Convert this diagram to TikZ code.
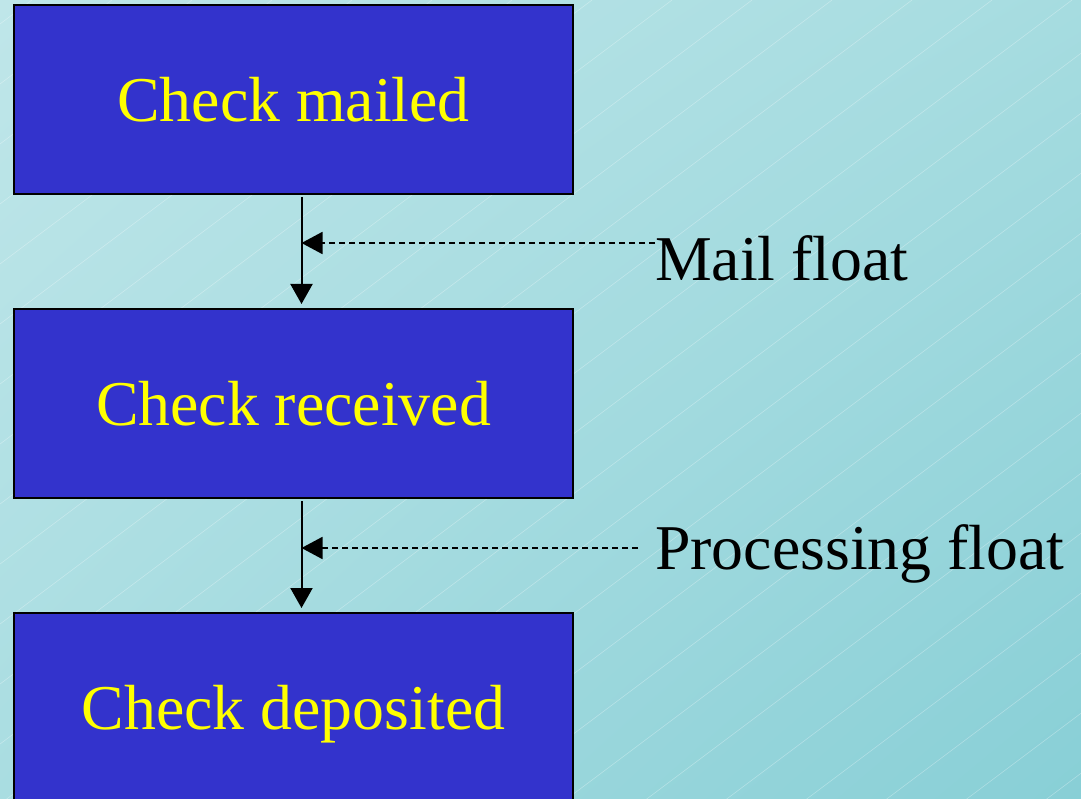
\documentclass[tikz,border=0pt]{standalone}
\usepackage{fontspec}
\setmainfont{Liberation Serif}
\usetikzlibrary{arrows.meta,shadings}
\definecolor{boxblue}{HTML}{3333CC}
\definecolor{txtyellow}{HTML}{FFFF00}
\definecolor{bgTL}{HTML}{BFE6E9}
\definecolor{bgTR}{HTML}{A6DCE0}
\definecolor{bgBL}{HTML}{A9DDE1}
\definecolor{bgBR}{HTML}{88CFD6}
\tikzset{
  stagebox/.style={draw=black, line width=2.4pt, fill=boxblue, text=txtyellow,
    minimum width=559pt, minimum height=189pt, inner sep=0pt, text depth=0pt,
    font=\fontsize{63.8}{76}\selectfont},
  floatlabel/.style={inner sep=0pt, text=black, anchor=base west,
    font=\fontsize{63.8}{76}\selectfont},
  flowarrow/.style={line width=2pt, -{Triangle[length=20pt,width=22pt]}},
  floatarrow/.style={line width=1.8pt, dash pattern=on 6pt off 4pt,
    -{Triangle[length=21pt,width=22pt]}},
  texture/.style={white, opacity=0.3, line width=0.6pt}
}
\begin{document}
\begin{tikzpicture}[x=1pt,y=-1pt]
\useasboundingbox (0,0) rectangle (1081,799);
\clip (0,0) rectangle (1081,799);
\shade[upper left=bgTL, upper right=bgTR, lower left=bgBL, lower right=bgBR]
  (0,0) rectangle (1081,799);
\foreach \c in {24,84,...,1644} {
  \draw[texture] (0,\c) -- (\c/0.75,0);
}
\node[stagebox] (b1) at (293.5,99.5) {Check mailed};
\node[stagebox] (b2) at (293.5,403.5) {Check received};
\node[stagebox] (b3) at (293.5,707.5) {Check deposited};
\node[floatlabel] (l1) at (655,281) {Mail float};
\node[floatlabel] (l2) at (655,569) {Processing float};
\coordinate (t1) at (301.5,197);
\coordinate (h1) at (301.5,304);
\coordinate (t2) at (301.5,501);
\coordinate (h2) at (301.5,608);
\coordinate (d1) at (655,243);
\coordinate (d2) at (638,548);
\draw[flowarrow] (t1) -- (h1);
\draw[flowarrow] (t2) -- (h2);
\draw[floatarrow] (d1) -- (d1 -| t1);
\draw[floatarrow] (d2) -- (d2 -| t2);
\end{tikzpicture}
\end{document}
